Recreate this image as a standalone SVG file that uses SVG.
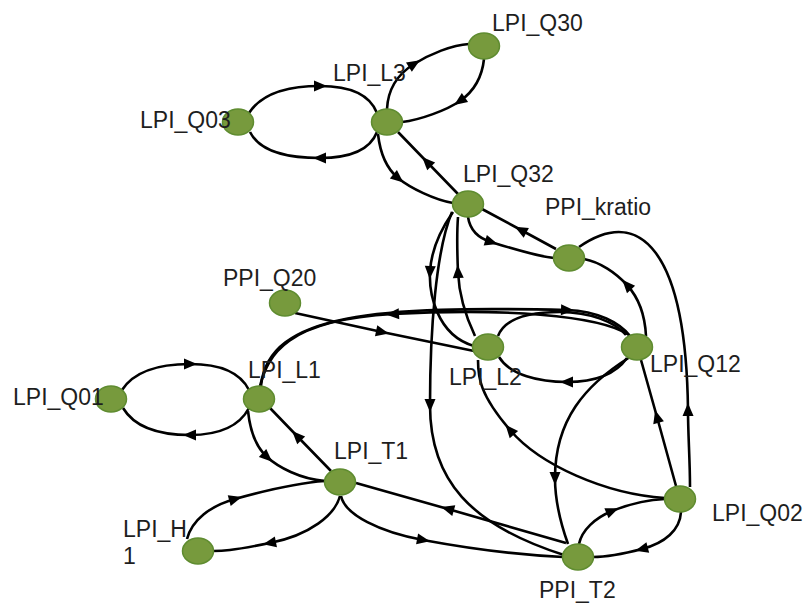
<svg xmlns="http://www.w3.org/2000/svg" width="810" height="606" viewBox="0 0 810 606">
<defs>
<style>
.e{fill:none;stroke:#000;stroke-width:2.6;marker-mid:url(#arr)}
.n{fill:#779a3d;stroke:#5f8c30;stroke-width:1.5}
.t{font-family:"Liberation Sans",Arial,Helvetica,sans-serif;font-size:23px;fill:#1e1e1e}
</style>
<marker id="arr" viewBox="-7 -6 14 12" refX="0" refY="0" markerWidth="14" markerHeight="12" markerUnits="userSpaceOnUse" orient="auto">
<path d="M7,0 L-6,-5.5 L-6,5.5 Z" fill="#000"/>
</marker>
</defs>
<rect width="810" height="606" fill="#fff"/>
<g id="connectors">
<path class="e" d="M249,113 C262,93 290,86 320,86 S370,95 377,113"/>
<path class="e" d="M377,132 C370,150 350,158 320,158 S260,152 250,132"/>
<path class="e" d="M387,109 C388,88 398,74 414,64 S452,45 469,44"/>
<path class="e" d="M484,59 C482,78 473,92 460,101 S420,120 402,122"/>
<path class="e" d="M378,134 C380,152 386,168 398,178 S435,200 453,203"/>
<path class="e" d="M458,194 L427,162 L398,132"/>
<path class="e" d="M556,249 L521,230 L482,209"/>
<path class="e" d="M468,217 C470,230 478,238 491,242 S535,256 554,258"/>
<path class="e" d="M453,212 C439,232 431,252 430,272 S436,335 474,346"/>
<path class="e" d="M452,212 C436,250 430,330 430,405 S470,525 564,555"/>
<path class="e" d="M475,336 C465,315 459,295 458,272 S457,230 458,217"/>
<path class="e" d="M261,386 C268,312 380,306 567,310 C598,311 620,323 630,336"/>
<path class="e" d="M629,335 C600,315 500,308 393,314 S268,355 260,386"/>
<path class="e" style="marker-mid:none" d="M498,336 C505,318 530,312 560,312 S615,322 626,335"/>
<path class="e" d="M627,358 C615,375 595,382 567,382 S510,375 499,357"/>
<path class="e" d="M295,313 L382,332 L474,351"/>
<path class="e" d="M122,390 C135,370 160,364 190,364 S240,372 249,390"/>
<path class="e" d="M249,408 C240,425 220,435 190,435 S135,428 123,408"/>
<path class="e" d="M248,411 C250,430 256,447 267,457 S300,479 325,481"/>
<path class="e" d="M331,471 L297,436 L270,408"/>
<path class="e" d="M187,539 C192,520 210,506 235,499 S295,483 325,481"/>
<path class="e" d="M340,496 C335,515 310,535 270,543 S222,551 213,551"/>
<path class="e" d="M566,543 L448,509 L356,483"/>
<path class="e" d="M341,496 C345,515 380,532 423,540 S520,555 563,557"/>
<path class="e" d="M665,498 C605,494 540,465 510,430 S478,378 478,360"/>
<path class="e" d="M630,357 C585,385 555,420 555,478 C555,505 563,530 568,544"/>
<path class="e" d="M676,486 L657,417 L641,360"/>
<path class="e" d="M690,487 C690,460 688,435 688,410 C686,250 640,205 579,247"/>
<path class="e" d="M646,336 C645,315 638,297 627,285 S600,262 584,259"/>
<path class="e" d="M579,544 C582,530 595,518 612,511 S645,500 665,499"/>
<path class="e" d="M681,512 C680,530 665,543 642,549 S605,557 593,557"/>
</g>
<g id="LPI_Q30"><ellipse class="n" cx="484" cy="46" rx="15.5" ry="13"/><text class="t" x="492" y="31">LPI_Q30</text></g>
<g id="LPI_L3"><ellipse class="n" cx="387" cy="122" rx="15.5" ry="13"/><text class="t" x="333" y="81">LPI_L3</text></g>
<g id="LPI_Q03"><ellipse class="n" cx="238" cy="122" rx="15.5" ry="13"/><text class="t" x="140" y="128">LPI_Q03</text></g>
<g id="LPI_Q32"><ellipse class="n" cx="468" cy="204" rx="15.5" ry="13"/><text class="t" x="463" y="182">LPI_Q32</text></g>
<g id="PPI_kratio"><ellipse class="n" cx="569" cy="258" rx="15.5" ry="13"/><text class="t" x="545" y="215">PPI_kratio</text></g>
<g id="PPI_Q20"><ellipse class="n" cx="285" cy="303" rx="15.5" ry="13"/><text class="t" x="223" y="286">PPI_Q20</text></g>
<g id="LPI_L2"><ellipse class="n" cx="488" cy="347" rx="15.5" ry="13"/><text class="t" x="449" y="385">LPI_L2</text></g>
<g id="LPI_Q12"><ellipse class="n" cx="637" cy="347" rx="15.5" ry="13"/><text class="t" x="650" y="372">LPI_Q12</text></g>
<g id="LPI_Q01"><ellipse class="n" cx="111" cy="399" rx="15.5" ry="13"/><text class="t" x="13" y="405">LPI_Q01</text></g>
<g id="LPI_L1"><ellipse class="n" cx="259" cy="399" rx="15.5" ry="13"/><text class="t" x="248" y="378">LPI_L1</text></g>
<g id="LPI_T1"><ellipse class="n" cx="340" cy="482" rx="15.5" ry="13"/><text class="t" x="334" y="459">LPI_T1</text></g>
<g id="LPI_H1"><ellipse class="n" cx="198" cy="551" rx="15.5" ry="13"/><text class="t" x="123" y="537">LPI_H</text><text class="t" x="123" y="564">1</text></g>
<g id="LPI_Q02"><ellipse class="n" cx="680" cy="499" rx="15.5" ry="13"/><text class="t" x="712" y="521">LPI_Q02</text></g>
<g id="PPI_T2"><ellipse class="n" cx="578" cy="557" rx="15.5" ry="13"/><text class="t" x="539" y="598">PPI_T2</text></g>
</svg>
